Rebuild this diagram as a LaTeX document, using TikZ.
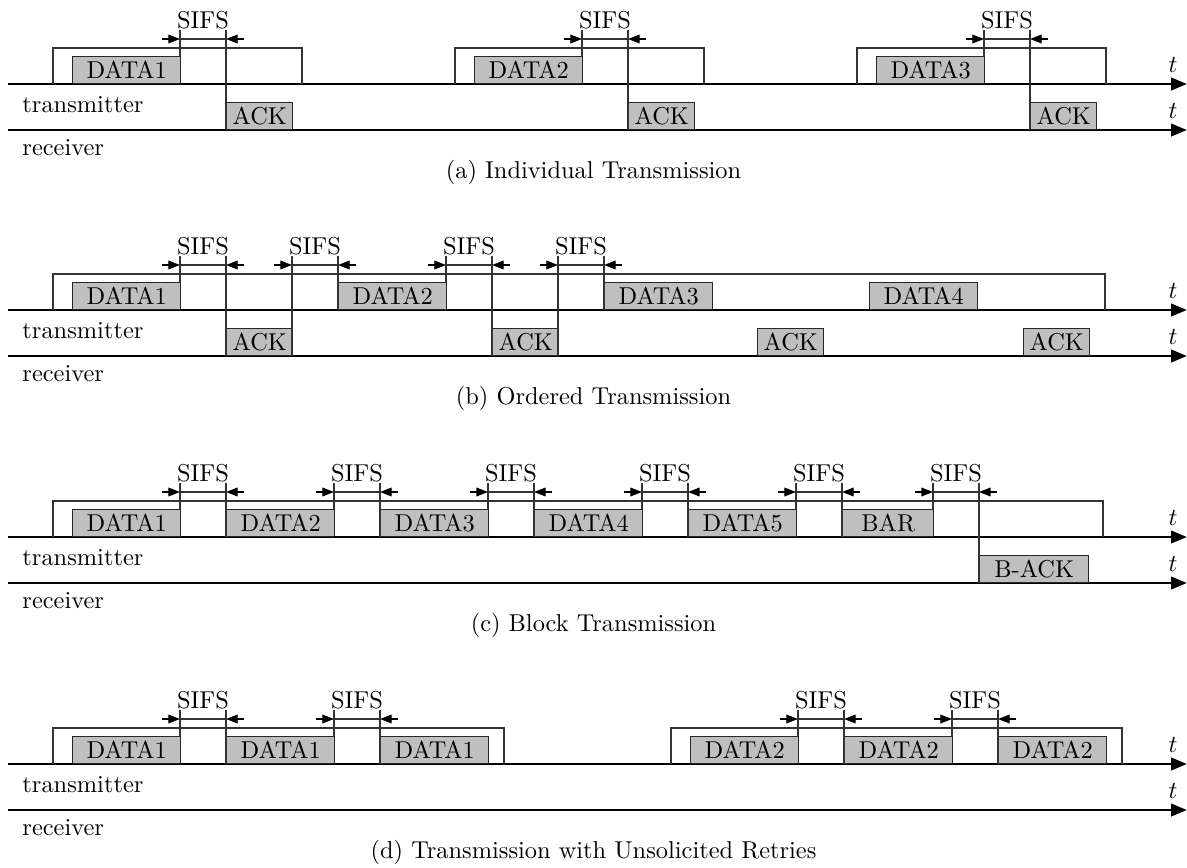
\documentclass[tikz,border=0pt]{standalone}
\usetikzlibrary{arrows.meta}
\def\px{0.0144cm}
\tikzset{
  taxis/.style={line width=1.2pt, -{Triangle[length=6.5pt,width=5pt]}},
  pktbox/.style={draw=black!85, fill=gray!50, line width=0.6pt, anchor=south west,
    inner sep=0pt, minimum height=27*\px},
  guide/.style={draw=black!80, line width=0.6pt},
  sifsarr/.style={line width=0.5pt, -{Triangle[length=4.8pt,width=3.6pt]}},
  lbl/.style={inner sep=0pt}
}
% packet box: name, left, right, base line, text
\newcommand{\pkt}[5]{\node[pktbox, minimum width={(#3-#2)*\px}] (\pn#1) at (#2,#4) {#5};}
% SIFS gap: name, left, right, foot of left line, foot of right line
\newcommand{\sifs}[5]{%
  \draw[guide] (#2,#4) -- (#2,-54);
  \draw[guide] (#3,#5) -- (#3,-54);
  \draw[guide] (#2,-45) -- (#3,-45);
  \draw[sifsarr] (#2-18,-45) -- (#2,-45);
  \draw[sifsarr] (#3+18,-45) -- (#3,-45);
  \node[lbl, anchor=base] (\pn#1) at ({(#2+#3)/2},-56) {SIFS};}
% frame over the transmitter line
\newcommand{\txop}[2]{\draw[guide] (#1,0) -- (#1,-36) -- (#2,-36) -- (#2,0);}

\begin{document}
\begin{tikzpicture}[x=\px, y=-\px]
\useasboundingbox (0,0) rectangle (1187,868);

% axes, labels and captions
\foreach \pn/\dy/\cap in {a/84/Individual Transmission, b/310/Ordered Transmission,
    c/537/Block Transmission, d/764/Transmission with Unsolicited Retries} {
  \begin{scope}[shift={(0,\dy)}]
    \draw[taxis] (8,0) -- (1187,0);
    \draw[taxis] (8,46) -- (1187,46);
    \node[lbl, anchor=base] (\pn-ttx) at (1173,-12) {$t$};
    \node[lbl, anchor=base] (\pn-trx) at (1173,34) {$t$};
    \node[lbl, anchor=base west] (\pn-tx) at (22,28) {transmitter};
    \node[lbl, anchor=base west] (\pn-rx) at (22,71) {receiver};
    \node[lbl, anchor=base] (\pn-cap) at (593.5,94) {(\pn) \cap};
  \end{scope}
}

% (a)
\begin{scope}[shift={(0,84)}]\def\pn{a}
\foreach \dx/\k in {0/1,402/2,804/3} {
  \begin{scope}[shift={(\dx,0)}]
    \txop{53}{302}
    \pkt{d\k}{72}{180}{0}{DATA\k}
    \pkt{k\k}{226}{292}{46}{ACK}
    \sifs{s\k}{180}{226}{-27}{46}
  \end{scope}
}
\end{scope}

% (b)
\begin{scope}[shift={(0,310)}]\def\pn{b}
\txop{53}{1105}
\pkt{d1}{72}{180}{0}{DATA1}
\pkt{k1}{226}{292}{46}{ACK}
\pkt{d2}{338}{446}{0}{DATA2}
\pkt{k2}{492}{558}{46}{ACK}
\pkt{d3}{604}{712}{0}{DATA3}
\pkt{k3}{757}{823}{46}{ACK}
\pkt{d4}{869}{977}{0}{DATA4}
\pkt{k4}{1023}{1089}{46}{ACK}
\sifs{s1}{180}{226}{-27}{46}
\sifs{s2}{292}{338}{46}{0}
\sifs{s3}{446}{492}{-27}{46}
\sifs{s4}{558}{604}{46}{0}
\end{scope}

% (c)
\begin{scope}[shift={(0,537)}]\def\pn{c}
\txop{53}{1103}
\foreach \x [count=\k] in {72,226,380,534,688}
  {\pkt{d\k}{\x}{\x+108}{0}{DATA\k}}
\pkt{bar}{842}{933}{0}{BAR}
\pkt{back}{979}{1088}{46}{B-ACK}
\foreach \x [count=\k] in {180,334,488,642,796}
  {\sifs{s\k}{\x}{\x+46}{-27}{0}}
\sifs{s6}{933}{979}{-27}{46}
\end{scope}

% (d)
\begin{scope}[shift={(0,764)}]\def\pn{d}
\txop{53}{504}
\txop{671}{1122}
\foreach \x [count=\k] in {72,226,380}
  {\pkt{p\k}{\x}{\x+108}{0}{DATA1}}
\foreach \x [count=\k] in {690,844,998}
  {\pkt{q\k}{\x}{\x+108}{0}{DATA2}}
\foreach \x [count=\k] in {180,334,798,952}
  {\sifs{s\k}{\x}{\x+46}{-27}{0}}
\end{scope}
\end{tikzpicture}
\end{document}
